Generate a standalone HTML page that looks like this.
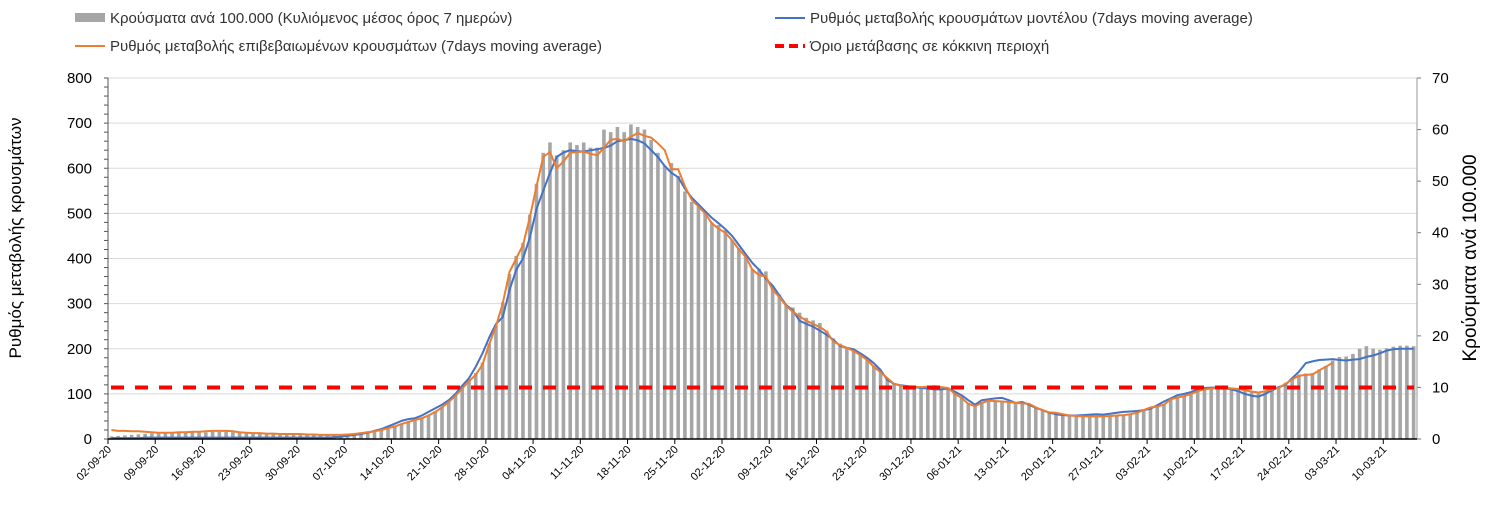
<!DOCTYPE html>
<html><head><meta charset="utf-8">
<style>
html,body{margin:0;padding:0;background:#fff;}
svg{display:block;font-family:"Liberation Sans",sans-serif;}
</style></head>
<body>
<svg id="chart" width="1498" height="525" viewBox="0 0 1498 525">
  <g>
    <g>
      <rect x="75" y="13" width="30" height="9" fill="#a6a6a6"/>
      <text x="110" y="23" font-size="15" fill="#333">Κρούσματα ανά 100.000 (Κυλιόμενος μέσος όρος 7 ημερών)</text>
    </g>
    <g>
      <line x1="775" y1="18" x2="805" y2="18" stroke="#4472c4" stroke-width="2"/>
      <text x="810" y="23" font-size="15" fill="#333">Ρυθμός μεταβολής κρουσμάτων μοντέλου (7days moving average)</text>
    </g>
    <g>
      <line x1="75" y1="46" x2="105" y2="46" stroke="#ed7d31" stroke-width="2"/>
      <text x="110" y="51" font-size="15" fill="#333">Ρυθμός μεταβολής επιβεβαιωμένων κρουσμάτων (7days moving average)</text>
    </g>
    <g>
      <line x1="775" y1="46" x2="805" y2="46" stroke="#ff0000" stroke-width="4" stroke-dasharray="9,5"/>
      <text x="810" y="51" font-size="15" fill="#333">Όριο μετάβασης σε κόκκινη περιοχή</text>
    </g>
  </g>
  <text transform="translate(21,238) rotate(-90)" text-anchor="middle" font-size="17" fill="#000">Ρυθμός μεταβολής κρουσμάτων</text>
  <text transform="translate(1476,258) rotate(-90)" text-anchor="middle" font-size="19" fill="#000">Κρούσματα ανά 100.000</text>
  <g id="grid"></g><g id="bars"></g><g id="lines"></g><g id="axes"></g>
</svg>
<script>
const dateLabels = ["02-09-20","09-09-20","16-09-20","23-09-20","30-09-20","07-10-20","14-10-20","21-10-20","28-10-20","04-11-20","11-11-20","18-11-20","25-11-20","02-12-20","09-12-20","16-12-20","23-12-20","30-12-20","06-01-21","13-01-21","20-01-21","27-01-21","03-02-21","10-02-21","17-02-21","24-02-21","03-03-21","10-03-21"];
const leftTicks = [0,100,200,300,400,500,600,700,800];
const rightTicks = [0,10,20,30,40,50,60,70];
const threshold = 114;
const cases = [0.5,0.6,0.7,0.8,0.9,1.0,1.1, 1.1,1.1,1.2,1.2,1.2,1.3,1.3, 1.3,1.4,1.4,1.4,1.3,1.3,1.2, 1.2,1.1,1.1,1.0,1.0,1.0,1.0, 0.9,0.9,0.9,0.8,0.8,0.8,0.9, 1.0,1.1,1.3,1.5,1.7,2.0,2.3, 2.6,3.0,3.4,3.8,4.2,4.7,5.4, 6.2,7.3,8.5,10.0,11.5,12.8,14.8, 18.5,22,26.5,32,35.5,38,43.5, 49.5,55.5,57.5,55,56,57.5,57, 57.5,56.5,56.5,60,59.5,60.5,59.5, 61,60.5,60,58,55.5,53,53.5, 51,48,46,45,44,42,41.5, 40.5,38.5,37,35.5,33,33,32.5, 29.5,28,26,25.5,24.5,23.5,23, 22.5,21,19.5,18.5,17.8,17,16.3, 15.5,14.2,13,11.8,10.8,10.3,10.2, 10.1,10.0,10.2,10.3,10.1,10.0,9.0, 8.2,7.0,6.6,7.2,7.5,7.4,7.4, 7.2,7.1,7.0,6.9,6.2,5.6,5.2, 5.1,4.9,4.6,4.5,4.4,4.4,4.4, 4.5,4.5,4.6,4.7,4.9,5.2,5.7, 6.2,6.4,6.8,7.7,8.1,8.4,8.8, 9.4,9.7,9.9,10.0,10.1,10.0,9.8, 9.6,9.3,9.2,9.4,9.8,10.1,10.9, 11.8,12.5,12.7,12.8,13.5,14.2,15.2, 15.9,16.0,16.5,17.5,18.0,17.5,17.3, 17.6,17.9,18.1,18.1,18.0];
const confirmedRate = [20,18,18,17,17,16,15, 14,14,14,15,15,16,16, 17,18,18,18,17,15,14, 13,13,12,12,11,11,11, 11,10,10,9,9,9,9, 10,11,13,15,17,20,24, 28,33,38,42,46,52,60, 70,82,96,112,128,142,165, 210,250,300,370,400,430,490, 560,625,636,600,615,634,636, 637,632,629,645,663,665,660, 670,678,672,668,655,640,598, 598,560,530,515,500,478,466, 457,440,420,404,375,363,360, 330,315,295,282,272,262,255, 248,238,216,208,202,195,186, 175,160,148,135,122,118,117, 116,115,116,117,115,113,100, 91,78,73,80,85,84,83, 82,80,79,78,70,64,59, 58,55,52,51,50,50,50, 50,51,52,53,55,58,64, 70,72,76,88,92,95,100, 106,110,112,113,114,112,111, 108,105,103,106,110,113,122, 132,140,142,143,152,160,169];
const modelRate = [2,2,2,2,2,3,3, 3,3,3,3,3,3,3, 3,3,3,3,3,3,3, 3,3,3,3,3,3,3, 3,3,3,3,3,4,5, 7,9,11,14,18,22,28, 34,40,44,46,52,60,68, 76,86,100,118,135,160,190, 225,255,270,330,375,400,445, 510,550,590,625,635,640,638, 637,640,642,645,650,660,662, 665,662,655,640,625,605,590, 580,555,535,520,505,490,478, 465,450,430,410,390,375,355, 340,318,297,285,262,255,249, 240,231,220,206,202,199,190, 180,168,153,131,122,119,117, 115,113,112,110,110,112,105, 97,86,76,86,88,90,91, 86,80,82,76,69,64,58, 55,53,52,52,53,54,55, 54,56,58,60,61,62,64, 67,75,83,90,97,100,104, 110,113,114,114,113,110,106, 100,96,94,100,108,115,120, 135,149,168,172,175,176,177, 175,174,176,177,182,185,190, 196,199,200,200,200];

const NS="http://www.w3.org/2000/svg";
const X0=108, X1=1417, Y0=439, Y1=78, N=194;
const step=(X1-X0)/N;
const xC=i=>X0+(i+0.5)*step;
const yL=v=>Y0-(v/800)*(Y0-Y1);
const yR=v=>Y0-(v/70)*(Y0-Y1);
function mk(tag,attrs,parent){const e=document.createElementNS(NS,tag);for(const k in attrs)e.setAttribute(k,attrs[k]);parent.appendChild(e);return e;}
const grid=document.getElementById('grid'),bars=document.getElementById('bars'),lines=document.getElementById('lines'),axes=document.getElementById('axes');

leftTicks.forEach(v=>{
  if(v>0){const g=mk('line',{x1:X0,x2:X1,y1:yL(v),y2:yL(v),stroke:'#d9d9d9','stroke-width':1},grid);
  
  }
  const t=mk('text',{x:92,y:yL(v)+5,'text-anchor':'end','font-size':15,fill:'#000'},axes);
  t.textContent=v;
  
  
});
for(let v=0;v<=800;v+=20){mk('line',{x1:X0-4,x2:X0,y1:yL(v),y2:yL(v),stroke:'#555','stroke-width':1},axes);}
rightTicks.forEach(v=>{
  const t=mk('text',{x:1432,y:yR(v)+5,'text-anchor':'start','font-size':15,fill:'#000'},axes);
  t.textContent=v;
  
  
  mk('line',{x1:X1,x2:X1+4,y1:yR(v),y2:yR(v),stroke:'#777','stroke-width':1},axes);
});

cases.forEach((v,i)=>{
  const h=Y0-yR(v);
  const r=mk('rect',{x:xC(i)-1.8,y:yR(v),width:3.6,height:h,fill:'#a6a6a6'},bars);
  
  
});

function poly(arr,color,name){
  const pts=[];arr.forEach((v,i)=>{if(v!=null)pts.push(xC(i).toFixed(1)+','+yL(v).toFixed(1));});
  const p=mk('polyline',{points:pts.join(' '),fill:'none',stroke:color,'stroke-width':2,'stroke-linejoin':'round'},lines);
  
  
}
poly(modelRate,'#4472c4','model-rate-line');
poly(confirmedRate,'#ed7d31','confirmed-rate-line');
const th=mk('line',{x1:X0+3,x2:X1-3,y1:yL(threshold),y2:yL(threshold),stroke:'#ff0000','stroke-width':4,'stroke-dasharray':'13,11'},lines);



mk('line',{x1:X0,x2:X0,y1:Y1,y2:Y0,stroke:'#555','stroke-width':1},axes);
mk('line',{x1:X1,x2:X1,y1:Y1,y2:Y0,stroke:'#999','stroke-width':1},axes);
mk('line',{x1:X0,x2:X1,y1:Y0,y2:Y0,stroke:'#000','stroke-width':1.5},axes);
dateLabels.forEach((d,k)=>{
  const x=X0+k*7*step;
  mk('line',{x1:x,x2:x,y1:Y0,y2:Y0+5,stroke:'#000','stroke-width':1},axes);
  const t=mk('text',{transform:`translate(${x+4},${Y0+11}) rotate(-45)`,'text-anchor':'end','font-size':11,fill:'#000'},axes);
  t.textContent=d;
  
  
});
</script>
</body></html>
